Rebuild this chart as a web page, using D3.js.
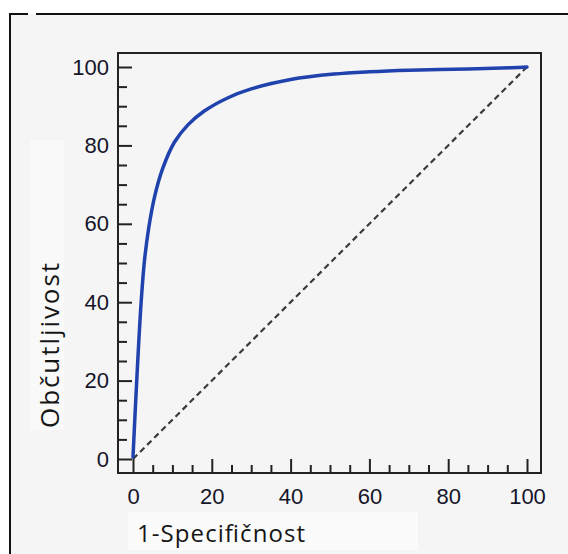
<!DOCTYPE html>
<html>
<head>
<meta charset="utf-8">
<script src="https://cdn.jsdelivr.net/npm/d3@7"></script>
<style>
  body { margin: 0; background: #fff; }
  .tick text { font-family: "Liberation Sans", Arial, sans-serif; font-size: 22px; fill: #15152a; }
  .title { font-family: "Open Sans", "Noto Sans", sans-serif; font-size: 24px; fill: #161616; }
</style>
</head>
<body>
<svg width="568" height="554"></svg>
<script>
// ROC curve (percent)
var fpr = [0, 0.5, 1.0, 1.5, 2.1, 2.9, 4.0, 5.5, 7.5, 10.5, 14, 18, 24, 30, 40, 51, 60, 70, 85, 96, 100];
var tpr = [0.5, 11, 21, 30.5, 40.5, 50.5, 59, 67, 74, 80.8, 85.3, 88.7, 92.1, 94.4, 96.8, 98.2, 98.8, 99.2, 99.5, 99.8, 100];
var majorTicks = [0, 20, 40, 60, 80, 100];
var minorTicks = d3.range(5, 100, 5).filter(d => d % 20 != 0);
var xTitle = "1-Specifičnost",
  yTitle = "Občutljivost";

var svg = d3.select("svg");

// light grey background inside the outer frame
svg.append("rect").attr("x", 10).attr("y", 14).attr("width", 558).attr("height", 540).attr("fill", "#f5f5f5");
// faint whiter patches behind the titles
svg.append("rect").attr("x", 30).attr("y", 140).attr("width", 34).attr("height", 290).attr("fill", "#f9f9f9");
svg.append("rect").attr("x", 128).attr("y", 512).attr("width", 290).attr("height", 38).attr("fill", "#fbfbfb");

// outer frame (top and left only)
svg.append("path")
  .attr("d", "M9,14H28M36,14H568M10,13V554")
  .attr("stroke", "#111")
  .attr("stroke-width", 2)
  .attr("fill", "none");

// plot box
var box = { left: 118, right: 541, top: 53, bottom: 473 },
  pad = 14;

var x = d3.scaleLinear().domain([0, 100]).range([box.left + 15, box.right - pad]);
var y = d3.scaleLinear().domain([0, 100]).range([box.bottom - pad, box.top + pad]);

var g = svg.append("g");

// minor ticks
g.append("g")
  .attr("transform", "translate(0," + box.bottom + ")")
  .call(d3.axisBottom(x).tickValues(minorTicks).tickSize(-8).tickFormat(""));
g.append("g")
  .attr("transform", "translate(" + box.left + ",0)")
  .call(d3.axisLeft(y).tickValues(minorTicks).tickSize(-9).tickFormat(""));

// major ticks + labels
g.append("g")
  .attr("transform", "translate(0," + box.bottom + ")")
  .call(d3.axisBottom(x).tickValues(majorTicks).tickSize(-14).tickPadding(15));
g.append("g")
  .attr("transform", "translate(" + box.left + ",0)")
  .call(d3.axisLeft(y).tickValues(majorTicks).tickSize(-14).tickPadding(9));

g.selectAll(".domain").remove();
g.selectAll(".tick line").attr("stroke", "#222").attr("stroke-width", 2);

svg.append("rect")
  .attr("x", box.left)
  .attr("y", box.top)
  .attr("width", box.right - box.left)
  .attr("height", box.bottom - box.top)
  .attr("fill", "none")
  .attr("stroke", "#222")
  .attr("stroke-width", 2);

// chance diagonal
svg.append("line")
  .attr("x1", x(0)).attr("y1", y(0))
  .attr("x2", x(100)).attr("y2", y(100))
  .attr("stroke", "#3a3a3a")
  .attr("stroke-width", 2.2)
  .attr("stroke-dasharray", "6,4");

// ROC curve
var line = d3.line()
  .x((d, i) => x(fpr[i]))
  .y((d, i) => y(tpr[i]))
  .curve(d3.curveCatmullRom.alpha(0.5));

svg.append("path")
  .attr("d", line(fpr))
  .attr("fill", "none")
  .attr("stroke", "#1f42ad")
  .attr("stroke-width", 3.5)
  .attr("stroke-linecap", "round");

// axis titles
svg.append("text")
  .attr("class", "title")
  .attr("x", 137)
  .attr("y", 542)
  .attr("textLength", 168)
  .attr("lengthAdjust", "spacing")
  .text(xTitle);

svg.append("text")
  .attr("class", "title")
  .style("font-size", "26px")
  .attr("transform", "translate(59,428) rotate(-90)")
  .attr("textLength", 165)
  .attr("lengthAdjust", "spacing")
  .text(yTitle);
</script>
</body>
</html>
